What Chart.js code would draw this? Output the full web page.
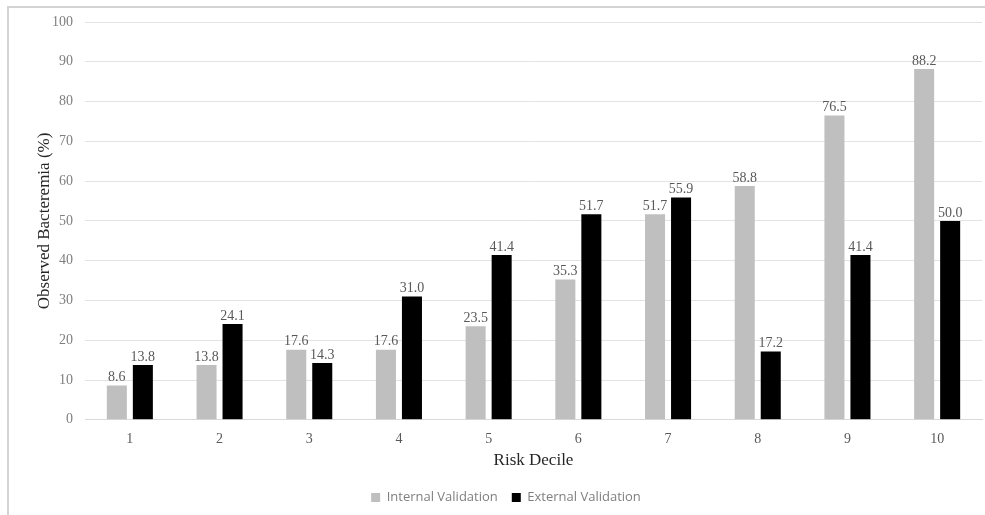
<!DOCTYPE html>
<html><head><meta charset="utf-8">
<script src="https://cdn.jsdelivr.net/npm/chart.js@4/dist/chart.umd.min.js"></script>
<style>
html,body{margin:0;padding:0;background:#fff;}
#wrap{position:relative;width:985px;height:515px;}
#frame{position:absolute;left:7px;top:6px;width:990px;height:520px;border-left:2px solid #d4d4d4;border-top:2px solid #d4d4d4;}
canvas{position:absolute;left:0;top:0;}
</style></head><body>
<div id="wrap"><div id="frame"></div><canvas id="c" width="985" height="515"></canvas></div>
<script>
const categories = ['1','2','3','4','5','6','7','8','9','10'];
const internalValidation = [8.6,13.8,17.6,17.6,23.5,35.3,51.7,58.8,76.5,88.2];
const externalValidation = [13.8,24.1,14.3,31.0,41.4,51.7,55.9,17.2,41.4,50.0];
const seriesNames = ['Internal Validation','External Validation'];

const valueLabels = {
  id:'valueLabels',
  afterDatasetsDraw(chart){
    const ctx = chart.ctx;
    ctx.save();
    ctx.font = '14px "Liberation Serif", serif';
    ctx.fillStyle = '#595959';
    ctx.textAlign = 'center';
    ctx.textBaseline = 'bottom';
    chart.data.datasets.forEach((ds,i)=>{
      chart.getDatasetMeta(i).data.forEach((bar,j)=>{
        ctx.fillText(ds.data[j].toFixed(1), bar.x, bar.y - 1);
      });
    });
    ctx.restore();
  }
};

new Chart(document.getElementById('c'),{
  type:'bar',
  data:{
    labels:categories,
    datasets:[
      {label:seriesNames[0],data:internalValidation,backgroundColor:'#bfbfbf',borderWidth:0,categoryPercentage:0.58,barPercentage:0.77},
      {label:seriesNames[1],data:externalValidation,backgroundColor:'#000000',borderWidth:0,categoryPercentage:0.58,barPercentage:0.77}
    ]
  },
  options:{
    responsive:false,
    animation:false,
    layout:{padding:{left:30,right:3,top:22,bottom:1}},
    plugins:{
      legend:{
        position:'bottom',
        labels:{
          boxWidth:9,boxHeight:9,padding:14,color:'#7f7f7f',
          font:{family:'"Open Sans", sans-serif',size:13}
        }
      },
      tooltip:{enabled:false}
    },
    scales:{
      x:{
        grid:{display:false},
        border:{color:'#d9d9d9',width:1},
        ticks:{color:'#595959',font:{family:'"Liberation Serif", serif',size:14},padding:3},
        title:{display:true,text:'Risk Decile',color:'#262626',font:{family:'"Liberation Serif", serif',size:17},padding:{top:0,bottom:6}}
      },
      y:{
        min:0,max:100,
        afterFit(scale){ scale.width = 55; },
        ticks:{stepSize:10,color:'#7f7f7f',font:{family:'"Liberation Serif", serif',size:14},padding:12},
        grid:{color:'#e3e3e3',drawTicks:false},
        border:{display:false},
        title:{display:true,text:'Observed Bacteremia (%)',color:'#262626',font:{family:'"Liberation Serif", serif',size:17},padding:{bottom:0}}
      }
    }
  },
  plugins:[valueLabels]
});
</script>
</body></html>
